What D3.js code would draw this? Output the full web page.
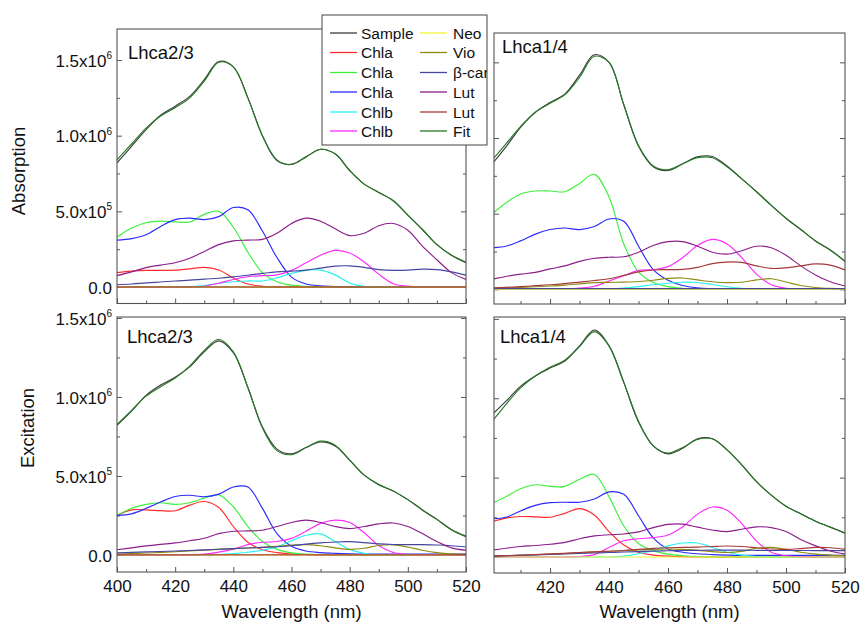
<!DOCTYPE html>
<html><head><meta charset="utf-8">
<script src="https://cdn.jsdelivr.net/npm/d3@7"></script>
<style>
body{margin:0;background:#fff}
svg{display:block}
text{font-family:"Liberation Sans",Arial,sans-serif;fill:#111}
</style>
</head><body>
<svg id="chart" width="863" height="626"></svg>
<script>
// ---------- DATA (values in units of 1e5) ----------
const wavelengths = [400,405,410,415,420,425,430,435,440,445,450,455,460,465,470,475,480,485,490,495,500,505,510,515,520];

// Absorption, Lhca2/3
const abs23Sample = [8.2,9.3,10.4,11.35,11.95,12.6,13.7,14.9,14.55,12.5,10.0,8.35,8.1,8.6,9.1,8.8,7.7,6.8,6.25,5.7,4.75,3.8,2.8,2.1,1.6];
const abs23Fit    = [8.4,9.45,10.5,11.3,11.85,12.5,13.6,14.85,14.55,12.5,10.0,8.4,8.1,8.6,9.1,8.8,7.7,6.8,6.25,5.7,4.75,3.8,2.8,2.1,1.65];
const abs23ChlaR  = [0.95,1.05,1.1,1.1,1.12,1.2,1.3,1.12,0.6,0.2,0.05,0.01,0,0,0,0,0,0,0,0,0,0,0,0,0];
const abs23ChlaG  = [3.3,3.9,4.25,4.35,4.3,4.3,4.8,5.0,3.95,2.3,0.95,0.35,0.12,0.04,0.01,0,0,0,0,0,0,0,0,0,0];
const abs23ChlaB  = [3.1,3.2,3.45,4.0,4.45,4.55,4.45,4.65,5.25,5.1,3.7,1.95,0.65,0.2,0.08,0.03,0.01,0,0,0,0,0,0,0,0];
const abs23ChlbC  = [0,0,0,0,0,0.03,0.1,0.25,0.35,0.4,0.4,0.6,0.9,1.1,1.12,0.8,0.27,0.05,0,0,0,0,0,0,0];
const abs23ChlbM  = [0,0,0,0,0,0,0.05,0.25,0.5,0.68,0.75,0.8,1.1,1.6,2.1,2.42,2.25,1.65,0.85,0.22,0.06,0.01,0,0,0];
const abs23Neo    = [0,0,0,0,0,0,0,0,0,0,0,0,0,0,0,0,0,0,0,0,0,0,0,0,0];
const abs23Vio    = [0,0,0,0,0,0,0,0,0,0,0,0,0,0,0,0,0,0,0,0,0,0,0,0,0];
const abs23Bcar   = [0.15,0.2,0.27,0.33,0.4,0.45,0.52,0.58,0.67,0.78,0.9,1.0,1.05,1.12,1.25,1.38,1.4,1.3,1.15,1.1,1.12,1.18,1.15,1.0,0.78];
const abs23Lut1   = [0.75,1.0,1.28,1.45,1.6,1.9,2.35,2.8,3.05,3.1,3.15,3.55,4.2,4.55,4.35,3.85,3.4,3.55,4.05,4.2,3.75,2.7,1.8,0.95,0.5];
const abs23Lut2   = [0,0,0,0,0,0,0,0,0,0,0,0,0,0,0,0,0,0,0,0,0,0,0,0,0];

// Absorption, Lhca1/4
const abs14Sample = [8.2,9.4,10.7,11.7,12.35,12.9,14.15,15.5,15.0,12.2,9.45,8.1,7.85,8.3,8.75,8.78,8.15,7.3,6.45,5.55,4.7,3.95,3.2,2.6,1.85];
const abs14Fit    = [8.45,9.6,10.75,11.7,12.3,12.85,14.0,15.4,15.0,12.2,9.5,8.15,7.9,8.3,8.7,8.7,8.1,7.3,6.45,5.55,4.7,3.95,3.2,2.6,1.85];
const abs14ChlaR  = [0,0,0,0,0,0,0,0,0,0,0,0,0,0,0,0,0,0,0,0,0,0,0,0,0];
const abs14ChlaG  = [4.9,5.7,6.3,6.5,6.5,6.45,7.0,7.6,6.1,3.0,1.15,0.45,0.18,0.07,0.02,0,0,0,0,0,0,0,0,0,0];
const abs14ChlaB  = [2.75,2.85,3.2,3.65,3.95,4.05,3.95,4.15,4.65,4.5,2.85,1.3,0.6,0.25,0.1,0.04,0,0,0,0,0,0,0,0,0];
const abs14ChlbC  = [0,0,0,0,0,0,0,0,0.02,0.08,0.18,0.3,0.4,0.47,0.45,0.32,0.17,0.06,0.01,0,0,0,0,0,0];
const abs14ChlbM  = [0,0,0,0,0,0,0.08,0.2,0.55,0.9,1.25,1.3,1.5,2.1,2.9,3.3,3.0,2.1,1.0,0.3,0.07,0.01,0,0,0];
const abs14Neo    = [0,0,0,0,0,0,0,0,0,0,0,0,0,0,0,0,0,0,0,0,0,0,0,0,0];
const abs14Vio    = [0.08,0.1,0.13,0.17,0.22,0.28,0.36,0.44,0.46,0.48,0.52,0.6,0.72,0.75,0.62,0.5,0.44,0.47,0.62,0.7,0.48,0.25,0.12,0.06,0.04];
const abs14Bcar   = [0.05,0.05,0.05,0.05,0.05,0.05,0.05,0.05,0.05,0.05,0.05,0.05,0.05,0.05,0.05,0.05,0.05,0.05,0.05,0.05,0.05,0.05,0.05,0.05,0.05];
const abs14Lut1   = [0.65,0.85,1.0,1.12,1.35,1.55,1.85,2.05,2.12,2.15,2.45,2.9,3.15,3.15,2.85,2.45,2.33,2.55,2.85,2.75,2.25,1.55,0.95,0.5,0.22];
const abs14Lut2   = [0.1,0.13,0.18,0.24,0.3,0.38,0.48,0.58,0.7,0.92,1.15,1.28,1.3,1.32,1.45,1.7,1.8,1.78,1.55,1.38,1.42,1.55,1.68,1.6,1.28];

// Excitation, Lhca2/3
const exc23Sample = [8.2,9.1,10.1,10.75,11.25,11.9,12.85,13.55,12.8,10.6,8.1,6.7,6.4,6.8,7.15,6.9,6.0,5.05,4.45,4.05,3.5,2.85,2.25,1.6,1.15];
const exc23Fit    = [8.25,9.15,10.05,10.65,11.2,11.95,12.95,13.65,12.85,10.6,8.05,6.6,6.35,6.8,7.2,6.95,6.0,5.05,4.45,4.05,3.5,2.85,2.25,1.6,1.2];
const exc23ChlaR  = [2.5,2.85,2.85,2.8,2.8,3.15,3.38,3.0,1.8,0.8,0.33,0.15,0.07,0.03,0,0,0,0,0,0,0,0,0,0,0];
const exc23ChlaG  = [2.5,2.95,3.2,3.3,3.2,3.3,3.6,3.8,3.05,1.8,0.85,0.35,0.13,0.05,0.02,0,0,0,0,0,0,0,0,0,0];
const exc23ChlaB  = [2.5,2.6,2.95,3.35,3.7,3.78,3.68,3.85,4.3,4.3,2.95,1.35,0.55,0.25,0.15,0.1,0.07,0.05,0.05,0.05,0.05,0.05,0.05,0.05,0.05];
const exc23ChlbC  = [0,0,0,0,0,0,0,0.03,0.08,0.17,0.3,0.5,0.9,1.25,1.33,0.85,0.35,0.1,0.02,0,0,0,0,0,0];
const exc23ChlbM  = [0,0,0,0,0,0,0.05,0.18,0.37,0.65,0.8,0.85,1.05,1.5,2.0,2.2,2.05,1.4,0.6,0.15,0.03,0,0,0,0];
const exc23Neo    = [0,0,0,0,0,0,0,0,0,0,0,0,0,0,0,0,0,0,0,0,0,0,0,0,0];
const exc23Vio    = [0.06,0.09,0.12,0.16,0.2,0.25,0.3,0.35,0.4,0.44,0.48,0.54,0.62,0.65,0.58,0.45,0.35,0.42,0.6,0.64,0.5,0.3,0.15,0.07,0.04];
const exc23Bcar   = [0.13,0.16,0.19,0.22,0.25,0.28,0.32,0.36,0.4,0.44,0.48,0.52,0.58,0.68,0.76,0.82,0.84,0.78,0.7,0.66,0.65,0.65,0.63,0.58,0.5];
const exc23Lut1   = [0.33,0.45,0.57,0.67,0.76,0.9,1.06,1.35,1.5,1.52,1.56,1.8,2.05,2.2,2.05,1.8,1.67,1.8,1.97,2.02,1.8,1.35,0.85,0.45,0.3];
const exc23Lut2   = [0,0,0,0,0,0,0,0,0,0,0,0,0,0,0,0,0,0,0,0,0,0,0,0,0];

// Excitation, Lhca1/4
const exc14Sample = [8.9,9.8,10.75,11.4,11.9,12.35,13.3,14.3,13.3,11.0,8.5,7.0,6.5,6.85,7.45,7.45,6.75,5.8,4.75,3.9,3.2,2.72,2.25,1.88,1.5];
const exc14Fit    = [8.45,9.6,10.65,11.4,11.95,12.4,13.25,14.2,13.3,11.0,8.55,7.0,6.55,6.9,7.4,7.45,6.75,5.8,4.75,3.9,3.2,2.72,2.25,1.88,1.5];
const exc14ChlaR  = [2.2,2.45,2.55,2.53,2.5,2.75,3.05,2.65,1.6,0.75,0.3,0.12,0.05,0.02,0,0,0,0,0,0,0,0,0,0,0];
const exc14ChlaG  = [3.35,3.8,4.3,4.55,4.45,4.45,4.9,5.2,3.8,1.95,0.85,0.4,0.18,0.08,0.03,0,0,0,0,0,0,0,0,0,0];
const exc14ChlaB  = [2.4,2.5,2.9,3.25,3.42,3.45,3.45,3.65,4.1,3.95,2.6,1.2,0.5,0.3,0.2,0.15,0.12,0.1,0.1,0.1,0.1,0.1,0.1,0.1,0.1];
const exc14ChlbC  = [0,0,0,0,0,0,0,0,0,0.05,0.2,0.42,0.7,0.88,0.88,0.6,0.3,0.12,0.03,0,0,0,0,0,0];
const exc14ChlbM  = [0,0,0,0,0,0,0.03,0.15,0.6,1.02,1.15,1.22,1.38,1.9,2.7,3.15,2.95,2.1,1.0,0.3,0.08,0.02,0,0,0];
const exc14Neo    = [0,0,0,0,0,0,0,0,0,0,0,0,0,0,0,0,0,0,0,0,0,0,0,0,0];
const exc14Vio    = [0.05,0.08,0.12,0.15,0.18,0.22,0.27,0.32,0.36,0.4,0.45,0.48,0.5,0.48,0.42,0.34,0.28,0.35,0.55,0.6,0.48,0.3,0.18,0.12,0.08];
const exc14Bcar   = [0.05,0.08,0.1,0.13,0.16,0.19,0.22,0.25,0.28,0.31,0.34,0.37,0.39,0.41,0.42,0.43,0.43,0.43,0.42,0.41,0.41,0.41,0.4,0.4,0.4];
const exc14Lut1   = [0.42,0.55,0.66,0.72,0.8,0.92,1.15,1.33,1.4,1.45,1.58,1.85,2.05,2.07,1.88,1.7,1.6,1.75,1.9,1.85,1.6,1.1,0.7,0.38,0.18];
const exc14Lut2   = [0.05,0.08,0.11,0.15,0.19,0.23,0.28,0.32,0.36,0.41,0.48,0.54,0.58,0.6,0.62,0.66,0.69,0.66,0.58,0.5,0.48,0.53,0.6,0.58,0.48];

// Legend / series labels
const seriesNames = ["Sample","Chla","Chla","Chla","Chlb","Chlb","Neo","Vio","β-car","Lut","Lut","Fit"];
const seriesColors = ["#3c3c3c","#ff2a2a","#3cf03c","#2a2aff","#2af0f0","#ff2aff","#f5f53a","#8c8c14","#4646a0","#8c1e8c","#a63a3a","#267a26"];

// Axis ticks
const yTickValues = [0, 5e5, 1e6, 1.5e6];
const yTickMantissa = ["0.0","5.0x10","1.0x10","1.5x10"];
const yTickExponent = ["","5","6","6"];
const yMinorTicks = [2.5e5, 7.5e5, 1.25e6];
const xTickValues = [400,420,440,460,480,500,520];
const xMinorTicks = [410,430,450,470,490,510];

const panelData = {
  abs23: [abs23Sample,abs23ChlaR,abs23ChlaG,abs23ChlaB,abs23ChlbC,abs23ChlbM,abs23Neo,abs23Vio,abs23Bcar,abs23Lut1,abs23Lut2,abs23Fit],
  abs14: [abs14Sample,abs14ChlaR,abs14ChlaG,abs14ChlaB,abs14ChlbC,abs14ChlbM,abs14Neo,abs14Vio,abs14Bcar,abs14Lut1,abs14Lut2,abs14Fit],
  exc23: [exc23Sample,exc23ChlaR,exc23ChlaG,exc23ChlaB,exc23ChlbC,exc23ChlbM,exc23Neo,exc23Vio,exc23Bcar,exc23Lut1,exc23Lut2,exc23Fit],
  exc14: [exc14Sample,exc14ChlaR,exc14ChlaG,exc14ChlaB,exc14ChlbC,exc14ChlbM,exc14Neo,exc14Vio,exc14Bcar,exc14Lut1,exc14Lut2,exc14Fit]
};

// ---------- LAYOUT ----------
const panels = [
  {key:"abs23", x0:117, x1:466, y0:29,  y1:303.5, xd:[400,520], yd:[-1.09e5,17.05e5], title:"Lhca2/3", tx:128, ty:59,  xLabels:false, yLabels:true},
  {key:"abs14", x0:494, x1:845, y0:33,  y1:304,   xd:[401,520], yd:[-0.97e5,16.94e5], title:"Lhca1/4", tx:502, ty:53,  xLabels:false, yLabels:false},
  {key:"exc23", x0:117, x1:466, y0:317, y1:572,   xd:[400,520], yd:[-1.08e5,15.06e5], title:"Lhca2/3", tx:127, ty:343, xLabels:true,  yLabels:true},
  {key:"exc14", x0:494, x1:845, y0:317, y1:573,   xd:[401,520], yd:[-1.01e5,15.12e5], title:"Lhca1/4", tx:500, ty:343, xLabels:true,  yLabels:false}
];

const svg = d3.select("#chart");
const frameColor = "#555";

panels.forEach((p, pi) => {
  const x = d3.scaleLinear().domain(p.xd).range([p.x0, p.x1]);
  const y = d3.scaleLinear().domain(p.yd).range([p.y1, p.y0]);
  const clipId = "clip" + pi;
  svg.append("clipPath").attr("id", clipId).append("rect")
    .attr("x", p.x0).attr("y", p.y0).attr("width", p.x1 - p.x0).attr("height", p.y1 - p.y0);

  const xt = xTickValues.filter(v => v >= p.xd[0] && v <= p.xd[1]);
  const xm = xMinorTicks.filter(v => v >= p.xd[0] && v <= p.xd[1]);

  // bottom axis (inward ticks)
  const gb = svg.append("g").attr("transform", `translate(0,${p.y1})`)
    .call(d3.axisBottom(x).tickValues(xt).tickSizeInner(-5).tickSizeOuter(0).tickPadding(8)
      .tickFormat(p.xLabels ? d3.format("d") : () => ""));
  gb.select(".domain").remove();
  gb.selectAll("line").attr("stroke", frameColor);
  gb.selectAll("text").attr("font-size", "17px").attr("fill", "#111").attr("dy", "0.71em");
  const gbm = svg.append("g").attr("transform", `translate(0,${p.y1})`)
    .call(d3.axisBottom(x).tickValues(xm).tickSizeInner(-3).tickSizeOuter(0).tickFormat(() => ""));
  gbm.select(".domain").remove();
  gbm.selectAll("line").attr("stroke", frameColor);

  // left axis
  const gl = svg.append("g").attr("transform", `translate(${p.x0},0)`)
    .call(d3.axisLeft(y).tickValues(yTickValues).tickSizeInner(-5).tickSizeOuter(0).tickPadding(5)
      .tickFormat(() => ""));
  gl.select(".domain").remove();
  gl.selectAll("line").attr("stroke", frameColor);
  if (p.yLabels) {
    gl.selectAll(".tick text").each(function(d, i) {
      const t = d3.select(this);
      t.text(null).attr("font-size", "17px").attr("fill", "#111").attr("x", -5).attr("dy", "0.36em");
      t.append("tspan").text(yTickMantissa[i]);
      if (yTickExponent[i]) t.append("tspan").attr("font-size", "10px").attr("dy", "-0.75em").text(yTickExponent[i]);
    });
  }
  const glm = svg.append("g").attr("transform", `translate(${p.x0},0)`)
    .call(d3.axisLeft(y).tickValues(yMinorTicks).tickSizeInner(-3).tickSizeOuter(0).tickFormat(() => ""));
  glm.select(".domain").remove();
  glm.selectAll("line").attr("stroke", frameColor);

  // right mirror ticks
  const gr = svg.append("g").attr("transform", `translate(${p.x1},0)`)
    .call(d3.axisRight(y).tickValues(yTickValues).tickSizeInner(-5).tickSizeOuter(0).tickFormat(() => ""));
  gr.select(".domain").remove();
  gr.selectAll("line").attr("stroke", frameColor);
  const grm = svg.append("g").attr("transform", `translate(${p.x1},0)`)
    .call(d3.axisRight(y).tickValues(yMinorTicks).tickSizeInner(-3).tickSizeOuter(0).tickFormat(() => ""));
  grm.select(".domain").remove();
  grm.selectAll("line").attr("stroke", frameColor);

  // curves
  const line = d3.line()
    .x((d, i) => x(wavelengths[i]))
    .y(d => y(d * 1e5))
    .curve(d3.curveCatmullRom.alpha(0.5));
  const gc = svg.append("g").attr("clip-path", `url(#${clipId})`);
  panelData[p.key].forEach((arr, si) => {
    gc.append("path").attr("d", line(arr)).attr("fill", "none")
      .attr("stroke", seriesColors[si]).attr("stroke-width", 1.15)
      .attr("stroke-linejoin", "round");
  });

  // frame
  svg.append("rect").attr("x", p.x0).attr("y", p.y0)
    .attr("width", p.x1 - p.x0).attr("height", p.y1 - p.y0)
    .attr("fill", "none").attr("stroke", frameColor).attr("stroke-width", 1.1);

  // title
  svg.append("text").attr("x", p.tx).attr("y", p.ty).attr("font-size", "18.5px").text(p.title);
});

// axis titles
svg.append("text").attr("transform", "translate(25,171) rotate(-90)")
  .attr("text-anchor", "middle").attr("font-size", "18.5px").text("Absorption");
svg.append("text").attr("transform", "translate(34,428) rotate(-90)")
  .attr("text-anchor", "middle").attr("font-size", "18.5px").text("Excitation");
svg.append("text").attr("x", 291.5).attr("y", 618).attr("text-anchor", "middle")
  .attr("font-size", "18.5px").text("Wavelength (nm)");
svg.append("text").attr("x", 669.5).attr("y", 618).attr("text-anchor", "middle")
  .attr("font-size", "18.5px").text("Wavelength (nm)");

// legend
const lg = svg.append("g");
lg.append("rect").attr("x", 322).attr("y", 15).attr("width", 165).attr("height", 130)
  .attr("fill", "#fff").attr("stroke", frameColor).attr("stroke-width", 1.1);
const lgClip = svg.append("clipPath").attr("id", "lgclip").append("rect")
  .attr("x", 322).attr("y", 15).attr("width", 165).attr("height", 130);
const lgi = lg.append("g").attr("clip-path", "url(#lgclip)");
const rowY = [33, 52.5, 72.5, 92, 112, 131];
seriesNames.forEach((name, i) => {
  const col = i < 6 ? 0 : 1;
  const r = i % 6;
  const lx = col === 0 ? 330 : 420;
  const ly = rowY[r];
  lgi.append("line").attr("x1", lx).attr("x2", lx + 27).attr("y1", ly).attr("y2", ly)
    .attr("stroke", seriesColors[i]).attr("stroke-width", 1.3);
  lgi.append("text").attr("x", lx + (col === 0 ? 31 : 33)).attr("y", ly).attr("dy", "0.36em")
    .attr("font-size", "15.5px").text(name);
});
</script>
</body></html>
